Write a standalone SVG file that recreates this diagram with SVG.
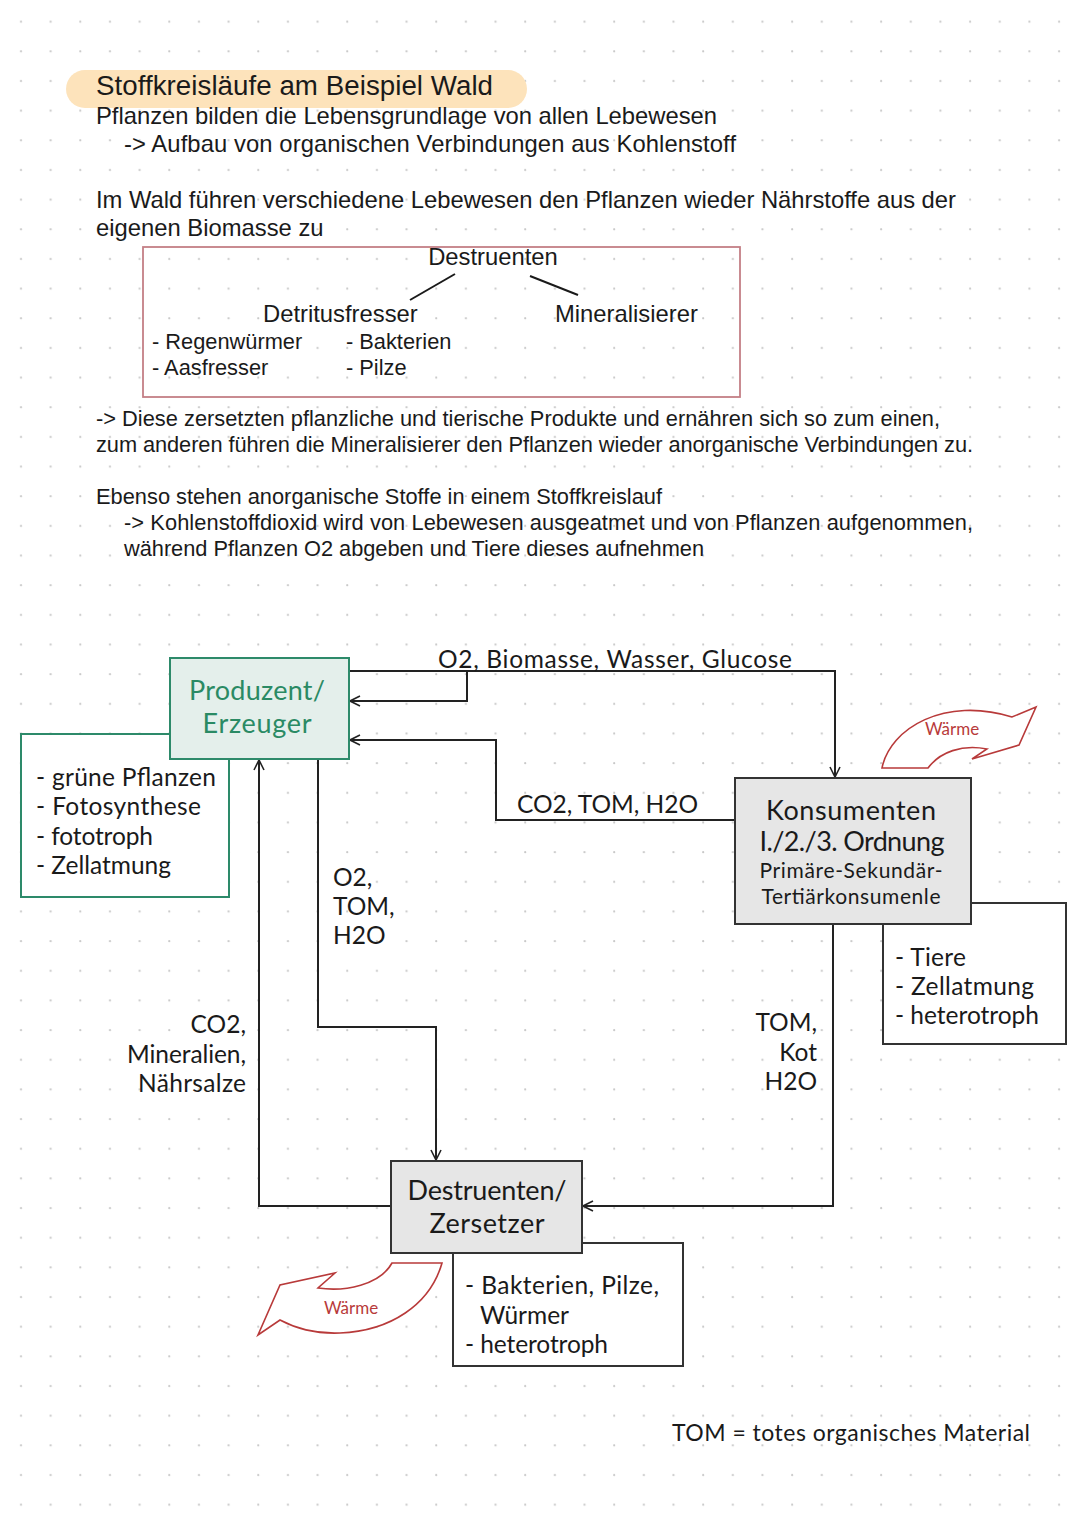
<svg xmlns="http://www.w3.org/2000/svg" width="1080" height="1525" viewBox="0 0 1080 1525">
<defs>
<pattern id="dots" x="6" y="6.7" width="29.66" height="29.66" patternUnits="userSpaceOnUse">
<circle cx="15" cy="15" r="1.1" fill="#c8c8c8"/>
</pattern>
<marker id="arr" viewBox="0 0 12 12" refX="11" refY="6" markerWidth="12" markerHeight="12" orient="auto" markerUnits="userSpaceOnUse">
<path d="M1,1 L11,6 L1,11" fill="none" stroke="#222" stroke-width="1.6"/>
</marker>
<style>
.t{font-family:"Liberation Sans",Arial,sans-serif;fill:#1a1a1a}
.h{font-size:23.8px}
.p{font-size:21.8px}
.d{font-family:Lato,"Noto Sans",sans-serif;fill:#1a1a1a}
.big{font-size:27px}
.lab{font-size:24.5px}
.sm{font-size:21px}
.g{fill:#2a8a64}
.w{font-family:Lato,"Noto Sans",sans-serif;fill:#b83a3a;font-size:17px}
.c{fill:none;stroke:#222;stroke-width:2}
.gb{fill:#e4efeb;stroke:#2d8a6a;stroke-width:2}
.gw{fill:#fff;stroke:#2d8a6a;stroke-width:2}
.nb{fill:#e6e6e6;stroke:#333;stroke-width:2}
.wb{fill:#fff;stroke:#333;stroke-width:2}
.heat{fill:#fff;stroke:#b83a3a;stroke-width:1.6;stroke-linejoin:miter}
</style>
</defs>
<rect width="1080" height="1525" fill="#fff"/>
<rect width="1080" height="1525" fill="url(#dots)"/>

<g id="header">
<rect x="66" y="70" width="461" height="38" rx="19" fill="#fde3bb"/>
<text class="t" x="96" y="95" font-size="27.7" textLength="397">Stoffkreisläufe am Beispiel Wald</text>
<text class="t h" x="96" y="124" textLength="621">Pflanzen bilden die Lebensgrundlage von allen Lebewesen</text>
<text class="t h" x="124" y="152" textLength="612">-&gt; Aufbau von organischen Verbindungen aus Kohlenstoff</text>
<text class="t h" x="96" y="208" textLength="860">Im Wald führen verschiedene Lebewesen den Pflanzen wieder Nährstoffe aus der</text>
<text class="t h" x="96" y="236">eigenen Biomasse zu</text>
</g>

<g id="destruenten-overview">
<rect x="143" y="247" width="597" height="150" fill="none" stroke="#c47f86" stroke-width="1.8"/>
<text class="t h" x="493" y="265" text-anchor="middle">Destruenten</text>
<line x1="455" y1="274" x2="410" y2="300" stroke="#1a1a1a" stroke-width="2"/>
<line x1="530" y1="276" x2="578" y2="295" stroke="#1a1a1a" stroke-width="2"/>
<text class="t h" x="263" y="322">Detritusfresser</text>
<text class="t h" x="555" y="322">Mineralisierer</text>
<text class="t p" x="152" y="349">- Regenwürmer</text>
<text class="t p" x="346" y="349">- Bakterien</text>
<text class="t p" x="152" y="375">- Aasfresser</text>
<text class="t p" x="346" y="375">- Pilze</text>
</g>

<g id="paragraphs">
<text class="t p" x="96" y="426" textLength="844">-&gt; Diese zersetzten pflanzliche und tierische Produkte und ernähren sich so zum einen,</text>
<text class="t p" x="96" y="452" textLength="877">zum anderen führen die Mineralisierer den Pflanzen wieder anorganische Verbindungen zu.</text>
<text class="t p" x="96" y="504" textLength="566">Ebenso stehen anorganische Stoffe in einem Stoffkreislauf</text>
<text class="t p" x="124" y="530" textLength="849">-&gt; Kohlenstoffdioxid wird von Lebewesen ausgeatmet und von Pflanzen aufgenommen,</text>
<text class="t p" x="124" y="556" textLength="580">während Pflanzen O2 abgeben und Tiere dieses aufnehmen</text>
</g>

<g id="connectors">
<path class="c" d="M349,671 H835 V777" marker-end="url(#arr)"/>
<path class="c" d="M467,671 V701 H350" marker-end="url(#arr)"/>
<path class="c" d="M735,820 H496 V740 H350" marker-end="url(#arr)"/>
<path class="c" d="M318,759 V1027 H436 V1160" marker-end="url(#arr)"/>
<path class="c" d="M391,1206 H259 V760" marker-end="url(#arr)"/>
<path class="c" d="M833,924 V1206 H583" marker-end="url(#arr)"/>
</g>

<g id="connector-labels">
<text class="d lab" x="438" y="668" textLength="354">O2, Biomasse, Wasser, Glucose</text>
<text class="d lab" x="517" y="813" textLength="181">CO2, TOM, H2O</text>
<text class="d lab" x="333" y="886">O2,</text>
<text class="d lab" x="333" y="915">TOM,</text>
<text class="d lab" x="333" y="944">H2O</text>
<text class="d lab" x="246" y="1033" text-anchor="end">CO2,</text>
<text class="d lab" x="246" y="1063" text-anchor="end" textLength="119">Mineralien,</text>
<text class="d lab" x="246" y="1092" text-anchor="end" textLength="108">Nährsalze</text>
<text class="d lab" x="817" y="1031" text-anchor="end">TOM,</text>
<text class="d lab" x="817" y="1061" text-anchor="end">Kot</text>
<text class="d lab" x="817" y="1090" text-anchor="end">H2O</text>
</g>

<g id="produzent-info">
<rect class="gw" x="21" y="734" width="208" height="163"/>
<text class="d lab" x="36" y="786" textLength="180">- grüne Pflanzen</text>
<text class="d lab" x="36" y="815" textLength="165">- Fotosynthese</text>
<text class="d lab" x="36" y="845" textLength="117">- fototroph</text>
<text class="d lab" x="36" y="874" textLength="135">- Zellatmung</text>
</g>

<g id="produzent">
<rect class="gb" x="170" y="658" width="179" height="101"/>
<text class="d big g" x="257" y="700" text-anchor="middle" textLength="136">Produzent/</text>
<text class="d big g" x="257" y="733" text-anchor="middle" textLength="109">Erzeuger</text>
</g>

<g id="konsumenten-info">
<rect class="wb" x="883" y="903" width="183" height="141"/>
<text class="d lab" x="895" y="966" textLength="71">- Tiere</text>
<text class="d lab" x="895" y="995" textLength="139">- Zellatmung</text>
<text class="d lab" x="895" y="1024" textLength="144">- heterotroph</text>
</g>

<g id="konsumenten">
<rect class="nb" x="735" y="778" width="236" height="146"/>
<text class="d big" x="851" y="820" text-anchor="middle" textLength="170">Konsumenten</text>
<text class="d big" x="852" y="851" text-anchor="middle" textLength="185">I./2./3. Ordnung</text>
<text class="d sm" x="851" y="878" text-anchor="middle" textLength="183">Primäre-Sekundär-</text>
<text class="d sm" x="851" y="904" text-anchor="middle" textLength="179">Tertiärkonsumenle</text>
</g>

<g id="destruenten-info">
<rect class="wb" x="453" y="1243" width="230" height="123"/>
<text class="d lab" x="465" y="1294" textLength="194">- Bakterien, Pilze,</text>
<text class="d lab" x="480" y="1324">Würmer</text>
<text class="d lab" x="465" y="1353" textLength="143">- heterotroph</text>
</g>

<g id="destruenten">
<rect class="nb" x="391" y="1161" width="191" height="92"/>
<text class="d big" x="487" y="1200" text-anchor="middle" textLength="159">Destruenten/</text>
<text class="d big" x="487" y="1233" text-anchor="middle" textLength="115">Zersetzer</text>
</g>

<g id="waerme-top">
<path class="heat" d="M882,768 C890,728 945,696 1012,717 L1036,707 L1019,745 L972,759 L987,749 C962,744 940,752 928,768 Z"/>
<text class="w" x="952" y="735" text-anchor="middle">Wärme</text>
</g>

<g id="waerme-bottom">
<path class="heat" d="M442,1263 C430,1305 390,1331 340,1333 C315,1334 295,1328 280,1320 L258,1335 L280,1285 L335,1273 L318,1288 C345,1292 380,1285 392,1263 Z"/>
<text class="w" x="351" y="1314" text-anchor="middle">Wärme</text>
</g>

<g id="legend">
<text class="d" x="672" y="1441" font-size="23" textLength="358">TOM = totes organisches Material</text>
</g>
</svg>
